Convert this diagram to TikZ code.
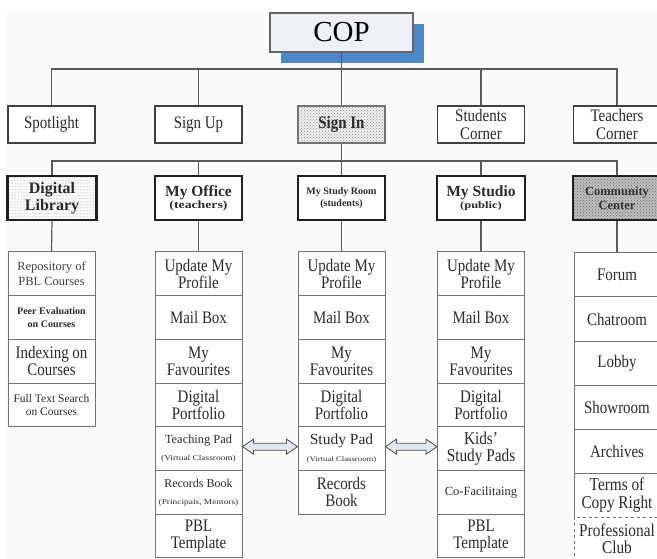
\documentclass[tikz,border=0pt]{standalone}
\usepackage{fontspec}
\setmainfont{Liberation Serif}
\newfontfamily\sn{Liberation Serif}[FakeStretch=0.85]
\newfontfamily\sw{Liberation Serif}[FakeStretch=1.25]
\usetikzlibrary{patterns,shadows,calc}
\newcommand\fs[2]{\fontsize{#1}{#2}\selectfont}
\definecolor{linec}{HTML}{5A5A5A}
\definecolor{txt}{HTML}{2A2A2A}
\definecolor{copfill}{HTML}{EDF1F5}
\definecolor{copshadow}{HTML}{4F88C6}
\definecolor{bgc}{HTML}{FAFAFA}
\definecolor{arrfill}{HTML}{E2E8EE}
\tikzset{
 conn/.style={draw=linec, line width=1.2pt},
 topbox/.style={draw=black!60, line width=1.3pt, fill=copfill, minimum width=143pt, minimum height=39pt, inner sep=0pt, text=black, font=\rmfamily\fs{29}{30},
   general shadow={fill=copshadow, shadow xshift=11pt, shadow yshift=-11pt}},
 lvtwo/.style={draw=black!75, line width=1.2pt, fill=white, minimum width=87pt, minimum height=37pt, inner sep=0pt, align=center, text=txt, font=\sn\fs{17.6}{18}},
 lvthree/.style={draw=black!88, line width=2.6pt, fill=white, minimum width=87pt, minimum height=44pt, inner sep=0pt, align=center, text=txt},
 item/.style={draw=black!55, line width=1pt, fill=white, minimum width=87pt, minimum height=43.7pt, inner sep=0pt, align=center, text=txt, font=\sn\fs{17.6}{16.8}},
 citem/.style={item, minimum width=86pt, minimum height=44pt},
 dblarrow/.style={draw=black!70, fill=arrfill, line width=0.8pt, line join=miter},
}
\begin{document}
\begin{tikzpicture}[x=1pt,y=-1pt]
\useasboundingbox (0,0) rectangle (657,559);
\fill[bgc] (7,13) rectangle (657,559);

% top
\node[topbox] (cop) at (341.5,32.5) {COP};

% level 2
\node[lvtwo] (spot) at (51.5,124.5) {Spotlight};
\node[lvtwo] (signup) at (198.5,124.5) {Sign Up};
\node[lvtwo, draw=black!55, preaction={fill=gray!12}, pattern=crosshatch dots, pattern color=black!45] (signin) at (341.5,124.5) {\bfseries Sign In};
\node[lvtwo] (students) at (481,124.5) {Students\\Corner};
\node[lvtwo] (teach) at (617,124.5) {Teachers\\Corner};

\coordinate (bus1) at (0,69);
\draw[conn] (cop.south) -- (cop.south |- bus1);
\draw[conn] (spot.north) -- (spot.north |- bus1) -- (teach.north |- bus1) -- (teach.north);
\draw[conn] (signup.north) -- (signup.north |- bus1);
\draw[conn] (signin.north) -- (signin.north |- bus1);
\draw[conn] (students.north) -- (students.north |- bus1);

% level 3
\node[lvthree, minimum width=89pt, preaction={fill=white}, pattern=dots, pattern color=black!55, font=\rmfamily\bfseries\fs{16}{17}] (dl) at (52,198) {Digital\\Library};
\node[lvthree] (mo) at (198.5,198) {{\rmfamily\bfseries\fs{15.5}{16}My Office}\\{\sw\bfseries\fs{11}{13}(teachers)}};
\node[lvthree, font=\rmfamily\bfseries\fs{10}{12}] (msr) at (341.5,198) {My Study Room\\(students)};
\node[lvthree, minimum width=88pt] (ms) at (481,198) {{\rmfamily\bfseries\fs{15.5}{16}My Studio}\\{\sw\bfseries\fs{10}{12.5}(public)}};
\node[lvthree, minimum width=88pt, preaction={fill=gray!50}, pattern=crosshatch dots, pattern color=black!60, text=black!80, font=\rmfamily\bfseries\fs{12.5}{14}] (cc) at (617,198) {Community\\Center};

\coordinate (bus2) at (0,161);
\draw[conn] (signin.south) -- (signin.south |- bus2);
\draw[conn] (dl.north) -- (dl.north |- bus2) -- (cc.north |- bus2) -- (cc.north);
\draw[conn] (mo.north) -- (mo.north |- bus2);
\draw[conn] (msr.north) -- (msr.north |- bus2);
\draw[conn] (ms.north) -- (ms.north |- bus2);

% Digital Library list
\node[item, font=\rmfamily\fs{12.5}{14.5}, text=black!75] (dl1) at (51.5,273.85) {Repository of\\PBL Courses};
\node[item, font=\rmfamily\bfseries\fs{10}{12.5}] (dl2) at (51.5,317.55) {Peer Evaluation\\on Courses};
\node[item] (dl3) at (51.5,361.25) {Indexing on\\Courses};
\node[item, font=\rmfamily\fs{11.5}{13.5}] (dl4) at (51.5,404.95) {Full Text Search\\on Courses};

% My Office list
\node[item] (mo1) at (198.5,273.85) {Update My\\Profile};
\node[item] (mo2) at (198.5,317.55) {Mail Box};
\node[item] (mo3) at (198.5,361.25) {My\\Favourites};
\node[item] (mo4) at (198.5,404.95) {Digital\\Portfolio};
\node[item] (mo5) at (198.5,448.65) {{\rmfamily\fs{12.4}{15}Teaching Pad}\\{\sw\fs{7.5}{10}(Virtual Classroom)}};
\node[item] (mo6) at (198.5,492.35) {{\rmfamily\fs{12}{15}Records Book}\\{\sw\fs{7.5}{10}(Principals, Mentors)}};
\node[item] (mo7) at (198.5,536.05) {PBL\\Template};

% My Study Room list
\node[item] (msr1) at (341.5,273.85) {Update My\\Profile};
\node[item] (msr2) at (341.5,317.55) {Mail Box};
\node[item] (msr3) at (341.5,361.25) {My\\Favourites};
\node[item] (msr4) at (341.5,404.95) {Digital\\Portfolio};
\node[item] (msr5) at (341.5,448.65) {{\rmfamily\fs{15.5}{16}Study Pad}\\{\sw\fs{7}{10}(Virtual Classroom)}};
\node[item] (msr6) at (341.5,492.35) {Records\\Book};

% My Studio list
\node[item] (ms1) at (481,273.85) {Update My\\Profile};
\node[item] (ms2) at (481,317.55) {Mail Box};
\node[item] (ms3) at (481,361.25) {My\\Favourites};
\node[item] (ms4) at (481,404.95) {Digital\\Portfolio};
\node[item, font=\sn\fs{18}{17}] (ms5) at (481,448.65) {Kids’\\Study Pads};
\node[item, font=\rmfamily\fs{12.5}{14}] (ms6) at (481,492.35) {Co-Facilitaing};
\node[item] (ms7) at (481,536.05) {PBL\\Template};

% Community Center list
\node[citem] (cc1) at (617,275) {Forum};
\node[citem] (cc2) at (617,319) {Chatroom};
\node[citem] (cc3) at (617,363) {Lobby};
\node[citem] (cc4) at (617,407) {Showroom};
\node[citem] (cc5) at (617,451) {Archives};
\node[citem, font=\sn\fs{18}{17.5}] (cc6) at (617,495) {Terms of\\Copy Right};
\node[citem, dashed, font=\sn\fs{18}{17.5}] (cc7) at (617,539) {Professional\\Club};

% vertical connectors to lists
\draw[conn] (dl.south) -- (dl1.north);
\draw[conn] (mo.south) -- (mo1.north);
\draw[conn] (msr.south) -- (msr1.north);
\draw[conn] (ms.south) -- (ms1.north);
\draw[conn] (cc.south) -- (cc1.north);

% double arrows
\draw[dblarrow] let \p1=([yshift=2pt]mo5.east), \p2=([yshift=2pt]msr5.west) in
  (\x1,\y1) -- (\x1+11pt,\y1+7.5pt) -- (\x1+11pt,\y1+3.5pt) -- (\x2-11pt,\y2+3.5pt) -- (\x2-11pt,\y2+7.5pt)
  -- (\x2,\y2) -- (\x2-11pt,\y2-7.5pt) -- (\x2-11pt,\y2-3.5pt) -- (\x1+11pt,\y1-3.5pt) -- (\x1+11pt,\y1-7.5pt) -- cycle;
\draw[dblarrow] let \p1=([yshift=2pt]msr5.east), \p2=([yshift=2pt]ms5.west) in
  (\x1,\y1) -- (\x1+11pt,\y1+7.5pt) -- (\x1+11pt,\y1+3.5pt) -- (\x2-11pt,\y2+3.5pt) -- (\x2-11pt,\y2+7.5pt)
  -- (\x2,\y2) -- (\x2-11pt,\y2-7.5pt) -- (\x2-11pt,\y2-3.5pt) -- (\x1+11pt,\y1-3.5pt) -- (\x1+11pt,\y1-7.5pt) -- cycle;
\end{tikzpicture}
\end{document}
